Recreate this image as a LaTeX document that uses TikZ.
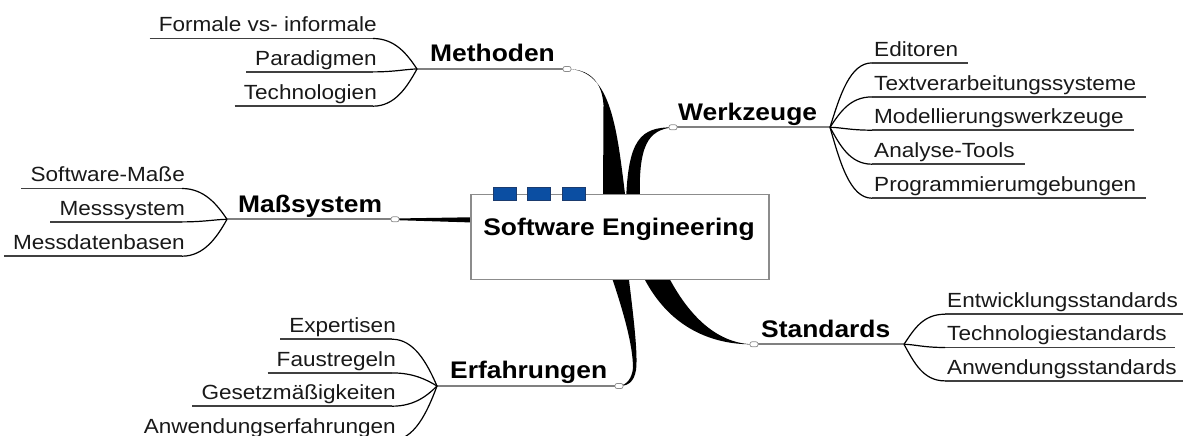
\documentclass[tikz,border=0pt]{standalone}
\usepackage{fontspec}
\setmainfont{Liberation Sans}
\newfontfamily\mapfont[FakeStretch=1.1]{Liberation Sans}
\definecolor{tabblue}{HTML}{0B4EA2}
\definecolor{tabedge}{HTML}{1B3B6E}
\pgfdeclarelayer{tapers}
\pgfsetlayers{tapers,main}
\begin{document}
\begin{tikzpicture}[x=1pt,y=-1pt,
  subtext/.style={font=\mapfont\fontsize{20.5}{24}\selectfont, text=black!90, inner sep=0pt, text depth=6.5pt},
  subleft/.style={subtext, anchor=base east},
  subright/.style={subtext, anchor=base west},
  maintext/.style={font=\mapfont\bfseries\fontsize{24}{28}\selectfont, inner sep=0pt, anchor=base west},
  subline/.style={draw=black!75, line width=1.8pt},
  mainline/.style={draw=black!50, line width=2.2pt},
  twig/.style={draw=black, line width=1.2pt},
  knot/.style={draw=black!45, fill=white, rectangle, rounded corners=2pt, minimum width=8pt, minimum height=5pt, inner sep=0pt, line width=0.7pt},
  hub/.style={draw=black!45, fill=white, line width=1.5pt, minimum width=298pt, minimum height=85pt, inner sep=0pt},
  tab/.style={draw=tabedge, fill=tabblue, line width=0.8pt, minimum width=23pt, minimum height=13pt, inner sep=0pt},
  taper/.style={fill=black}
]
\useasboundingbox (0,0) rectangle (1183,436);

% junction points of the main branches
\coordinate (kMeth) at (567,69);
\coordinate (kWerk) at (673,127.3);
\coordinate (kMass) at (395,219.3);
\coordinate (kErf)  at (619,386);
\coordinate (kStd)  at (754,344.3);
% fork points where the leaves split off
\coordinate (bMeth) at (417,69);
\coordinate (bWerk) at (830,127.3);
\coordinate (bMass) at (227,219.3);
\coordinate (bErf)  at (437,386);
\coordinate (bStd)  at (904,344.3);

% central topic
\node[hub] (box) at (620,236.8) {};
\node[tab] (q1) at (504.5,194) {};
\node[tab] (q2) at (539.3,194) {};
\node[tab] (q3) at (574.1,194) {};
\node[font=\mapfont\bfseries\fontsize{24}{28}\selectfont, anchor=base, inner sep=0pt] (title) at (619,235) {Software Engineering};

% main topics
\node[maintext] (tMeth) at (430,62) {Methoden};
\node[maintext] (tWerk) at (678,120) {Werkzeuge};
\node[maintext] (tMass) at (238,212) {Maßsystem};
\node[maintext] (tErf)  at (450,378) {Erfahrungen};
\node[maintext] (tStd)  at (761,337) {Standards};

\draw[mainline] (bMeth) -- (kMeth);
\draw[mainline] (kWerk) -- (bWerk);
\draw[mainline] (bMass) -- (kMass);
\draw[mainline] (bErf) -- (kErf);
\draw[mainline] (kStd) -- (bStd);

% Methoden leaves
\node[subleft] (m1) at (377,31.8) {Formale vs- informale};
\node[subleft] (m2) at (377,65.2) {Paradigmen};
\node[subleft] (m3) at (377,99.5) {Technologien};
\foreach \n in {m1,m2,m3}
  \draw[subline] ([xshift=-9pt]\n.south west) -- ([xshift=-4pt]\n.south east);
\draw[twig] ([xshift=-4pt]m1.south east) .. controls +(22,0) and +(-10,-15) .. (bMeth);
\draw[twig] ([xshift=-4pt]m2.south east) .. controls +(22,0) and +(-10,0) .. (bMeth);
\draw[twig] ([xshift=-4pt]m3.south east) .. controls +(22,0) and +(-10,18) .. (bMeth);

% Werkzeuge leaves
\node[subright] (w1) at (874,56.2) {Editoren};
\node[subright] (w2) at (874,90.2) {Textverarbeitungssysteme};
\node[subright] (w3) at (874,123.5) {Modellierungswerkzeuge};
\node[subright] (w4) at (874,157.5) {Analyse-Tools};
\node[subright] (w5) at (874,191.5) {Programmierumgebungen};
\foreach \n in {w1,w2,w3,w4,w5}
  \draw[subline] ([xshift=-2pt]\n.south west) -- ([xshift=10pt]\n.south east);
\draw[twig] (bWerk) .. controls +(10,-32) and +(-22,0) .. ([xshift=-2pt]w1.south west);
\draw[twig] (bWerk) .. controls +(10,-15) and +(-22,0) .. ([xshift=-2pt]w2.south west);
\draw[twig] (bWerk) .. controls +(10,0) and +(-22,0) .. ([xshift=-2pt]w3.south west);
\draw[twig] (bWerk) .. controls +(10,18) and +(-22,0) .. ([xshift=-2pt]w4.south west);
\draw[twig] (bWerk) .. controls +(10,35) and +(-22,0) .. ([xshift=-2pt]w5.south west);

% Maßsystem leaves
\node[subleft] (s1) at (185,181.8) {Software-Maße};
\node[subleft] (s2) at (185,215.2) {Messsystem};
\node[subleft] (s3) at (185,249.5) {Messdatenbasen};
\foreach \n in {s1,s2,s3}
  \draw[subline] ([xshift=-9pt]\n.south west) -- ([xshift=-3pt]\n.south east);
\draw[twig] ([xshift=-3pt]s1.south east) .. controls +(22,0) and +(-10,-15) .. (bMass);
\draw[twig] ([xshift=-3pt]s2.south east) .. controls +(22,0) and +(-10,0) .. (bMass);
\draw[twig] ([xshift=-3pt]s3.south east) .. controls +(22,0) and +(-10,18) .. (bMass);

% Erfahrungen leaves
\node[subleft] (e1) at (396,332.5) {Expertisen};
\node[subleft] (e2) at (396,366.2) {Faustregeln};
\node[subleft] (e3) at (396,399.5) {Gesetzmäßigkeiten};
\node[subleft] (e4) at (396,433.5) {Anwendungserfahrungen};
\foreach \n in {e1,e2,e3,e4}
  \draw[subline] ([xshift=-9pt]\n.south west) -- ([xshift=-4pt]\n.south east);
\draw[twig] ([xshift=-4pt]e1.south east) .. controls +(22,0) and +(-10,-23) .. (bErf);
\draw[twig] ([xshift=-4pt]e2.south east) .. controls +(22,0) and +(-10,-6) .. (bErf);
\draw[twig] ([xshift=-4pt]e3.south east) .. controls +(22,0) and +(-10,10) .. (bErf);
\draw[twig] ([xshift=-4pt]e4.south east) .. controls +(22,0) and +(-10,27) .. (bErf);

% Standards leaves
\node[subright] (d1) at (947,307.5) {Entwicklungsstandards};
\node[subright] (d2) at (947,340.8) {Technologiestandards};
\node[subright] (d3) at (947,374.2) {Anwendungsstandards};
\foreach \n in {d1,d2,d3}
  \draw[subline] ([xshift=-2pt]\n.south west) -- ([xshift=8pt]\n.south east);
\draw[twig] (bStd) .. controls +(10,-15) and +(-22,0) .. ([xshift=-2pt]d1.south west);
\draw[twig] (bStd) .. controls +(10,0) and +(-22,0) .. ([xshift=-2pt]d2.south west);
\draw[twig] (bStd) .. controls +(10,18) and +(-22,0) .. ([xshift=-2pt]d3.south west);

% junction knots
\node[knot] (nMeth) at (kMeth) {};
\node[knot] (nWerk) at (kWerk) {};
\node[knot] (nMass) at (kMass) {};
\node[knot] (nErf)  at (kErf) {};
\node[knot] (nStd)  at (kStd) {};

% tapered trunks running from behind the central box out to each junction
\begin{pgfonlayer}{tapers}
  \fill[taper] (603,202) -- (603.5,105) .. controls (602,82) and (590,69) .. (kMeth)
        .. controls (612,69) and (617,130) .. (626,202) -- cycle;
  \fill[taper] (626,202) .. controls (628,140) and (640,127) .. (kWerk)
        .. controls (648,130) and (638,145) .. (640,202) -- cycle;
  \fill[taper] (kMass) ++(0,-0.8) -- (476,217.2) -- (476,222.6) -- (395,220.1) -- cycle;
  \fill[taper] (628,272) .. controls (634,320) and (638,355) .. (636,370)
        .. controls (634,382) and (628,386) .. (kErf)
        .. controls (627,385) and (632,378) .. (633,368)
        .. controls (633,345) and (623,310) .. (610,272) -- cycle;
  \fill[taper] (666,272) .. controls (690,320) and (720,344) .. (kStd)
        .. controls (715,345) and (668,330) .. (641,272) -- cycle;
\end{pgfonlayer}
\end{tikzpicture}
\end{document}
